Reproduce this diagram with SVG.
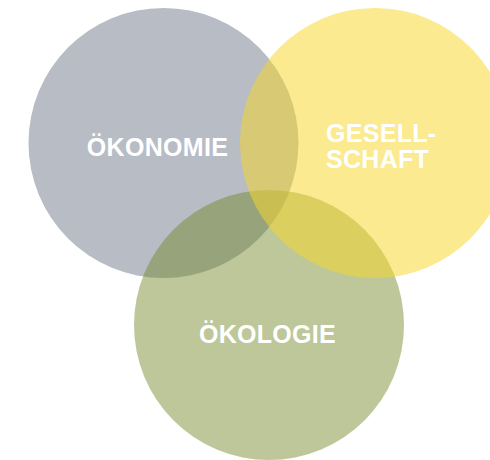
<svg xmlns="http://www.w3.org/2000/svg" width="490" height="460" viewBox="0 0 490 460">
<style>
.lbl{font-family:"Liberation Sans",Arial,Helvetica,sans-serif;font-weight:bold;font-size:25px;fill:#ffffff;letter-spacing:0.3px}
</style>
<rect width="490" height="460" fill="#ffffff"/>
<g id="oekonomie">
<circle cx="163.5" cy="143" r="135" fill="#b7bcc5"/>
</g>
<g id="oekologie">
<circle cx="269" cy="325" r="135" fill="#738828" fill-opacity="0.47"/>
</g>
<g id="gesellschaft">
<circle cx="375" cy="143" r="135" fill="#f7d72b" fill-opacity="0.52"/>
</g>
<g id="labels">
<text class="lbl" x="157.5" y="155.5" text-anchor="middle">ÖKONOMIE</text>
<text class="lbl" x="326" y="142">GESELL-</text>
<text class="lbl" x="326" y="168">SCHAFT</text>
<text class="lbl" x="267.5" y="343" text-anchor="middle">ÖKOLOGIE</text>
</g>
<g id="connectors"></g>
</svg>
